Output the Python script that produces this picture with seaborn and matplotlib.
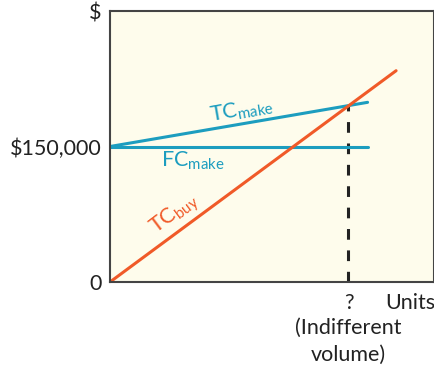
import matplotlib
matplotlib.use("Agg")
import matplotlib.pyplot as plt
import seaborn as sns
import pandas as pd

# values (units on a 0-100 scale)
fc_units = [0, 79.5]
fc_make = [150000, 150000]
tc_make_units = [0, 79.5]
tc_make = [150000, 198900]
tc_buy_units = [0, 88.3]
tc_buy = [0, 233900]
indiff_units = 73.6
indiff_cost = 196000

y_ticks = [0, 150000, 300000]
y_labels = ["0", "$150,000", "$"]

teal = "#1C9DBF"
orange = "#F05A28"
ink = "#222222"

sns.set_style("white")
plt.rcParams["font.family"] = ["Lato", "DejaVu Sans"]
plt.rcParams["mathtext.fontset"] = "custom"
plt.rcParams["mathtext.rm"] = "Lato"

fig = plt.figure(figsize=(4.35, 3.68), dpi=100)
ax = fig.add_axes([110 / 435, 1 - 282 / 368, 324 / 435, 271 / 368])
ax.set_facecolor("#FEFCEC")

lines = pd.concat([
    pd.DataFrame({"units": fc_units, "cost": fc_make, "line": "FC"}),
    pd.DataFrame({"units": tc_make_units, "cost": tc_make, "line": "TCmake"}),
    pd.DataFrame({"units": tc_buy_units, "cost": tc_buy, "line": "TCbuy"}),
])
sns.lineplot(data=lines, x="units", y="cost", hue="line",
             palette={"FC": teal, "TCmake": teal, "TCbuy": orange},
             linewidth=2.2, legend=False, ax=ax)

ax.plot([indiff_units, indiff_units], [0, indiff_cost], color=ink,
        linestyle=(0, (3.5, 3.5)), linewidth=2.2, zorder=1)

ax.set_xlim(0, 100)
ax.set_ylim(0, 300000)
ax.set_xlabel("")
ax.set_ylabel("")
ax.set_yticks(y_ticks)
ax.set_yticklabels(y_labels)
ax.set_xticks([])
ax.tick_params(length=0, labelsize=15.5, colors=ink, pad=6)
for s in ax.spines.values():
    s.set_color("#444444")
    s.set_linewidth(1.5)

xt = ax.get_xaxis_transform()
ax.text(indiff_units, -0.078, "?", transform=xt, ha="center", va="center",
        fontsize=15.5, color=ink)
ax.text(100.3, -0.078, "Units", transform=xt, ha="right", va="center",
        fontsize=15.5, color=ink)
ax.text(indiff_units, -0.17, "(Indifferent", transform=xt, ha="center",
        va="center", fontsize=15.5, color=ink)
ax.text(indiff_units, -0.27, "volume)", transform=xt, ha="center",
        va="center", fontsize=15.5, color=ink)

ax.text(40.5, 190000, r"TC$_{\mathrm{make}}$", color=teal,
        fontsize=15.5, rotation=10, ha="center", va="center")
ax.text(25.5, 134000, r"FC$_{\mathrm{make}}$", color=teal,
        fontsize=15.5, ha="center", va="center")
ax.text(20, 75000, r"TC$_{\mathrm{buy}}$", color=orange,
        fontsize=15.5, rotation=37, ha="center", va="center")

fig.savefig("out.png", dpi=100)
